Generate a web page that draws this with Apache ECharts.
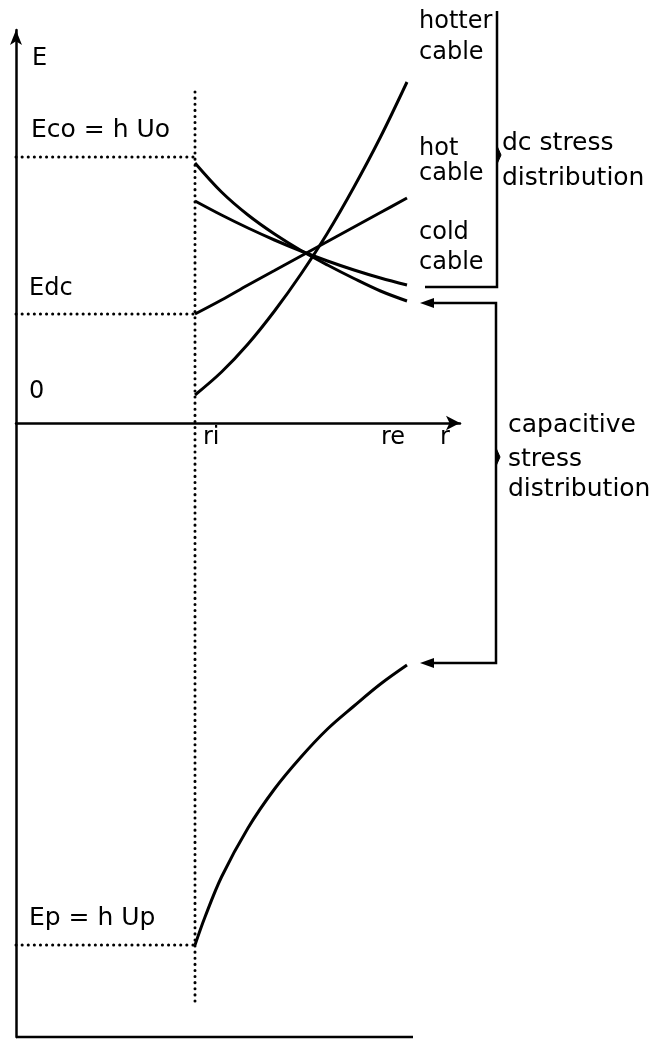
<!DOCTYPE html>
<html>
<head>
<meta charset="utf-8">
<script src="https://cdn.jsdelivr.net/npm/echarts@6/dist/echarts.min.js"></script>
<style>
  html, body { margin: 0; padding: 0; background: #fff; }
  #chart { width: 657px; height: 1039px; }
</style>
</head>
<body>
<div id="chart"></div>
<script>
// Radial coordinate r and field strength E (arbitrary units)
const rInner = 17.9;          // ri, conductor screen
const rOuter = 39.1;          // re, insulation screen
const rAxisMax = 44.4;
const eAxisMin = -61.4;
const eAxisMax = 39.3;

// Reference field levels
const eCo = 26.6;             // Eco = h Uo
const eDc = 10.9;             // Edc
const eP = -52.2;             // Ep = h Up

// dc stress distribution across the insulation
const rSamples     = [17.9, 20.55, 23.2, 25.85, 28.5, 31.15, 33.8, 36.45, 39.1];
const hotterCable  = [2.8, 5.1, 7.9, 11.2, 14.9, 19.0, 23.6, 28.6, 34.1];
const hotCable     = [10.9, 12.3, 13.8, 15.25, 16.7, 18.15, 19.6, 21.05, 22.5];
const coldCable    = [26.0, 23.1, 20.8, 18.9, 17.25, 15.8, 14.45, 13.2, 12.2];
const warmCable    = [22.2, 20.8, 19.5, 18.3, 17.2, 16.2, 15.3, 14.5, 13.8];

// capacitive (impulse) stress distribution
const rCapacitive = [17.9, 18.9, 20.55, 23.2, 25.85, 28.5, 31.15, 33.8, 36.45, 39.1];
const eCapacitive = [-52.2, -49.4, -45.4, -40.5, -36.6, -33.4, -30.6, -28.3, -26.1, -24.2];

// vertical extent of the ri guide
const riGuideTop = 33.1;
const riGuideBottom = -58.0;
const frameBottomEnd = 39.7;

const FONT = 'DejaVu Sans';
const INK = '#000';

const pairs = (xs, ys) => xs.map((x, i) => [x, ys[i]]);

const curveStyle = { color: INK, width: 3 };
const dotStyle = { color: INK, width: 3, type: [0.1, 6], cap: 'round' };

function curve(name, data) {
  return {
    name, type: 'line', data, smooth: 0.35, showSymbol: false, silent: true,
    lineStyle: curveStyle, clip: false, z: 3
  };
}
function guide(name, data) {
  return {
    name, type: 'line', data, showSymbol: false, silent: true,
    lineStyle: dotStyle, clip: false, z: 2
  };
}

const chart = echarts.init(document.getElementById('chart'), null, { renderer: 'canvas' });

chart.setOption({
  backgroundColor: '#fff',
  animation: false,
  grid: { left: 16, right: 197, top: 30, bottom: 2 },
  xAxis: {
    type: 'value', min: 0, max: rAxisMax,
    axisLine: {
      onZero: true, symbol: ['none', 'arrow'], symbolSize: [11, 14],
      lineStyle: { color: INK, width: 2.5 }
    },
    axisTick: { show: false }, axisLabel: { show: false }, splitLine: { show: false }
  },
  yAxis: {
    type: 'value', min: eAxisMin, max: eAxisMax,
    axisLine: {
      show: true, onZero: false, symbol: ['none', 'arrow'], symbolSize: [9, 15],
      lineStyle: { color: INK, width: 2.5 }
    },
    axisTick: { show: false }, axisLabel: { show: false }, splitLine: { show: false }
  },
  series: [
    guide('Eco level', [[0, eCo], [rInner, eCo]]),
    guide('Edc level', [[0, eDc], [rInner, eDc]]),
    guide('Ep level', [[0, eP], [rInner, eP]]),
    guide('ri', [[rInner, riGuideTop], [rInner, riGuideBottom]]),
    curve('hotter cable', pairs(rSamples, hotterCable)),
    curve('hot cable', pairs(rSamples, hotCable)),
    curve('cold cable', pairs(rSamples, coldCable)),
    curve('intermediate', pairs(rSamples, warmCable)),
    curve('capacitive', pairs(rCapacitive, eCapacitive)),
    {
      name: 'frame', type: 'line', data: [[0, eAxisMin], [frameBottomEnd, eAxisMin]],
      showSymbol: false, silent: true, clip: false,
      lineStyle: { color: INK, width: 2.5 }
    }
  ]
});

const px = (r, e) => chart.convertToPixel({ gridIndex: 0 }, [r, e]);

function text(str, x, y, size) {
  return {
    type: 'text', x, y, silent: true,
    style: { text: str, fill: INK, font: (size || 24) + 'px "' + FONT + '"', verticalAlign: 'middle', align: 'left' }
  };
}

const yCo = px(0, eCo)[1];
const yDc = px(0, eDc)[1];
const yP = px(0, eP)[1];
const yZero = px(0, 0)[1];
const xRi = px(rInner, 0)[0];
const xRe = px(rOuter, 0)[0];
const xEnd = px(rAxisMax, 0)[0];

// bracket geometry
const bx = 497;
const arrowTip = 420;

function arrowLeft(y) {
  return { type: 'polygon', silent: true, shape: { points: [[arrowTip, y], [arrowTip + 14, y - 5], [arrowTip + 14, y + 5]] }, style: { fill: INK } };
}
function braceBump(x, y) {
  return { type: 'polygon', silent: true, shape: { points: [[x, y - 9], [x + 4, y], [x, y + 9]] }, style: { fill: INK, stroke: INK, lineWidth: 1 } };
}

chart.setOption({
  graphic: [
    text('E', 32, 59),
    text('Eco = h Uo', 31, yCo - 27, 25),
    text('Edc', 29, yDc - 25),
    text('0', 29, yZero - 31),
    text('Ep = h Up', 29, yP - 27, 25),
    text('ri', xRi + 8, yZero + 15),
    text('re', xRe - 26, yZero + 15),
    text('r', xEnd - 20, yZero + 15),

    text('hotter', 419, 22),
    text('cable', 419, 53),
    text('hot', 419, 149),
    text('cable', 419, 174),
    text('cold', 419, 233),
    text('cable', 419, 263),
    text('dc stress', 502, 143, 25),
    text('distribution', 502, 178, 25),

    text('capacitive', 508, 425, 25),
    text('stress', 508, 459, 25),
    text('distribution', 508, 489, 25),

    // dc bracket
    { type: 'polyline', silent: true, shape: { points: [[bx, 11], [bx, 287], [425, 287]] }, style: { stroke: INK, lineWidth: 2.5, fill: null } },
    braceBump(bx, 155),
    // capacitive bracket with arrows
    { type: 'polyline', silent: true, shape: { points: [[arrowTip + 8, 303], [bx - 1, 303], [bx - 1, 663], [arrowTip + 8, 663]] }, style: { stroke: INK, lineWidth: 2.5, fill: null } },
    arrowLeft(303),
    arrowLeft(663),
    braceBump(bx - 1, 457)
  ]
});
</script>
</body>
</html>
